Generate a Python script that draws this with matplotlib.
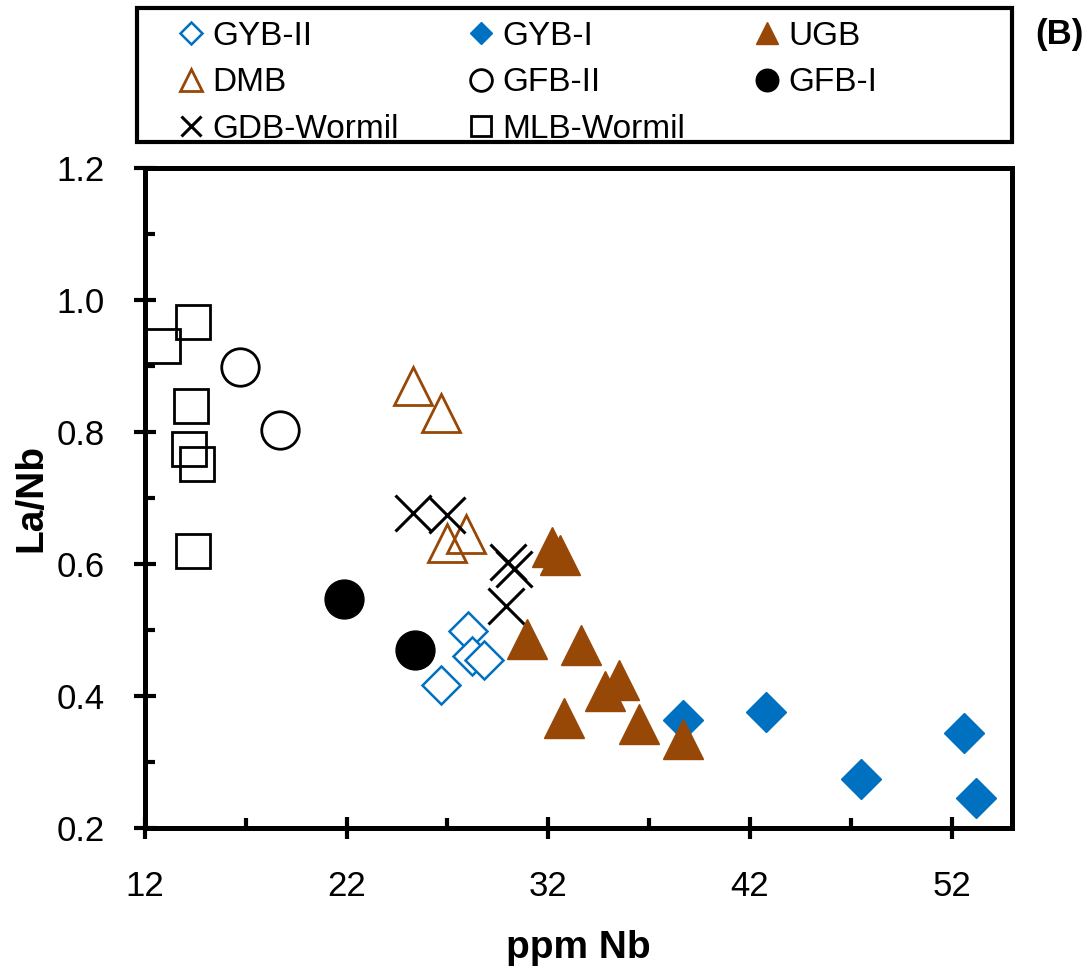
import matplotlib
matplotlib.use("Agg")
import matplotlib.pyplot as plt
from matplotlib.patches import Rectangle
from matplotlib.ticker import MultipleLocator, FormatStrFormatter

plt.rcParams['font.family'] = ['Liberation Sans', 'DejaVu Sans']

# data
gyb2_nb = [28.0, 28.2, 28.8, 26.7]
gyb2_lanb = [0.499, 0.461, 0.454, 0.416]

gyb1_nb = [38.7, 42.8, 47.5, 52.6, 53.2]
gyb1_lanb = [0.363, 0.376, 0.274, 0.344, 0.246]

ugb_nb = [32.2, 32.6, 30.95, 33.6, 35.5, 34.8, 32.8, 36.5, 38.7]
ugb_lanb = [0.626, 0.613, 0.487, 0.477, 0.425, 0.407, 0.367, 0.358, 0.335]

dmb_nb = [25.3, 26.7, 27.0, 27.9]
dmb_lanb = [0.870, 0.828, 0.632, 0.645]

gfb2_nb = [16.7, 18.7]
gfb2_lanb = [0.898, 0.803]

gfb1_nb = [21.85, 25.4]
gfb1_lanb = [0.547, 0.470]

gdb_nb = [25.3, 27.0, 30.0, 30.3, 29.9]
gdb_lanb = [0.677, 0.674, 0.603, 0.592, 0.536]

mlb_nb = [12.9, 14.4, 14.3, 14.2, 14.6, 14.4]
mlb_lanb = [0.930, 0.966, 0.840, 0.774, 0.751, 0.619]

blue = "#0070C0"
brown = "#974706"

fig = plt.figure(figsize=(10.91, 9.76), dpi=100)
ax = fig.add_axes([0.1329, 0.1516, 0.7947, 0.6764])

h_gyb2, = ax.plot(gyb2_nb, gyb2_lanb, ls="none", marker="D", ms=19.5, mfc="white",
                  mec=blue, mew=1.8, label="GYB-II", zorder=3)
h_gyb1, = ax.plot(gyb1_nb, gyb1_lanb, ls="none", marker="D", ms=20, mfc=blue,
                  mec=blue, mew=1, label="GYB-I", zorder=3)
h_ugb, = ax.plot(ugb_nb, ugb_lanb, ls="none", marker="^", ms=28.5, mfc=brown,
                 mec=brown, mew=1, label="UGB", zorder=4)
h_dmb, = ax.plot(dmb_nb, dmb_lanb, ls="none", marker="^", ms=27.5, mfc="none",
                 mec=brown, mew=2, label="DMB", zorder=3)
h_gfb2, = ax.plot(gfb2_nb, gfb2_lanb, ls="none", marker="o", ms=27, mfc="none",
                  mec="black", mew=2, label="GFB-II", zorder=3)
h_gfb1, = ax.plot(gfb1_nb, gfb1_lanb, ls="none", marker="o", ms=28, mfc="black",
                  mec="black", mew=1, label="GFB-I", zorder=3)
h_gdb, = ax.plot(gdb_nb, gdb_lanb, ls="none", marker="x", ms=26, mec="black",
                 mew=2.2, label="GDB-Wormil", zorder=3)
h_mlb, = ax.plot(mlb_nb, mlb_lanb, ls="none", marker="s", ms=25, mfc="none",
                 mec="black", mew=2, label="MLB-Wormil", zorder=3)

ax.set_xlim(12, 55)
ax.set_ylim(0.2, 1.2)
ax.xaxis.set_major_locator(MultipleLocator(10, offset=2))
ax.xaxis.set_minor_locator(MultipleLocator(5, offset=2))
ax.yaxis.set_major_locator(MultipleLocator(0.2))
ax.yaxis.set_minor_locator(MultipleLocator(0.1))
ax.yaxis.set_major_formatter(FormatStrFormatter("%.1f"))

for s in ax.spines.values():
    s.set_linewidth(3.6)
ax.tick_params(which="major", direction="inout", length=16, width=3,
               labelsize=25, pad=22)
ax.tick_params(which="minor", direction="in", length=7, width=3)
ax.tick_params(axis="y", which="major", pad=21)

ax.set_xlabel("ppm Nb", fontsize=28, fontweight="bold", labelpad=20)
ax.set_ylabel("La/Nb", fontsize=28, fontweight="bold", labelpad=5)

# legend box above the plot
fig.patches.append(Rectangle((0.1256, 0.8545), 0.802, 0.137,
                             transform=fig.transFigure, fill=False,
                             edgecolor="black", linewidth=3))
# column-wise fill so rows read like the reference
handles = [h_gyb2, h_dmb, h_gdb, h_gyb1, h_gfb2, h_mlb, h_ugb, h_gfb1]
fig.legend(handles, [h.get_label() for h in handles], ncol=3, frameon=False,
           fontsize=24, loc="upper left", bbox_to_anchor=(0.152, 0.992),
           markerscale=0.58, handlelength=0.7, handletextpad=0.3,
           columnspacing=2.1, labelspacing=0.46, borderaxespad=0)

fig.text(0.993, 0.965, "(B)", fontsize=25, fontweight="bold",
         ha="right", va="center")

fig.savefig("out.png", dpi=100)
